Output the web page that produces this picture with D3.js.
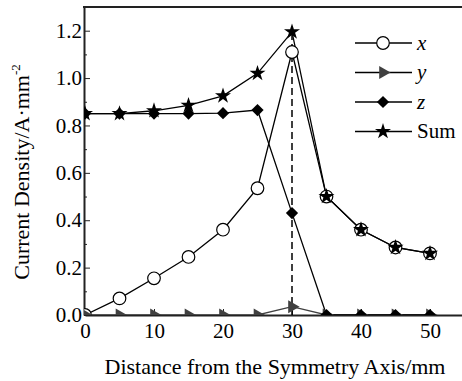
<!DOCTYPE html>
<meta charset="utf-8">
<style>
  body { margin: 0; background: #fff; }
  text { font-family: "Liberation Serif", "Times New Roman", serif; fill: #000; }
  .tick text { font-size: 21px; }
  .axis path, .axis line { stroke: #222; }
</style>
<svg width="462" height="381"></svg>
<script src="https://d3js.org/d3.v7.min.js"></script>
<script>

var distance = [0, 5, 10, 15, 20, 25, 30, 35, 40, 45, 50];
var xValues = [0, 0.07, 0.155, 0.245, 0.36, 0.535, 1.11, 0.50, 0.36, 0.285, 0.26];
var yValues = [0, 0, 0, 0, 0, 0, 0.035, 0, 0, 0, 0];
var zValues = [0.85, 0.85, 0.85, 0.85, 0.852, 0.865, 0.43, 0, 0, 0, 0];
var sumValues = [0.85, 0.85, 0.862, 0.885, 0.925, 1.02, 1.195, 0.50, 0.36, 0.285, 0.26];
var seriesNames = ["x", "y", "z", "Sum"];
var xTicks = [0, 10, 20, 30, 40, 50];
var yTicks = [0, 0.2, 0.4, 0.6, 0.8, 1.0, 1.2];

var svg = d3.select("svg"),
  plotLeft = 84, plotTop = 7, plotBottom = 315;

var x = d3.scaleLinear().domain([0, 55]).range([85, 464.5]);
var y = d3.scaleLinear().domain([0, 1.3]).range([plotBottom, plotTop]);

svg.append("clipPath").attr("id", "plot")
  .append("rect").attr("x", plotLeft).attr("y", plotTop).attr("width", 462 - plotLeft).attr("height", plotBottom - plotTop);

// axes, ticks inward
var xAxis = svg.append("g").attr("class", "axis")
  .attr("transform", "translate(0," + plotBottom + ")")
  .call(d3.axisBottom(x).tickValues(xTicks).tickSizeInner(-6).tickSizeOuter(0).tickFormat(d3.format("d")));
xAxis.selectAll(".tick text").attr("y", 8).attr("dy", "0.71em");

var xMinor = svg.append("g").attr("class", "axis")
  .attr("transform", "translate(0," + plotBottom + ")")
  .call(d3.axisBottom(x).tickValues([5, 15, 25, 35, 45, 55]).tickSize(-3).tickFormat(""));
xMinor.select(".domain").remove();

var yAxis = svg.append("g").attr("class", "axis")
  .attr("transform", "translate(" + plotLeft + ",0)")
  .call(d3.axisLeft(y).tickValues(yTicks).tickSizeInner(-6).tickSizeOuter(0).tickFormat(d3.format(".1f")));
yAxis.selectAll(".tick text").attr("x", -2);

var yMinor = svg.append("g").attr("class", "axis")
  .attr("transform", "translate(" + plotLeft + ",0)")
  .call(d3.axisLeft(y).tickValues([0.1, 0.3, 0.5, 0.7, 0.9, 1.1]).tickSize(-3).tickFormat(""));
yMinor.select(".domain").remove();

svg.selectAll(".axis .domain").attr("stroke-width", 2);

// top frame
svg.append("line").attr("x1", plotLeft - 1).attr("x2", 462).attr("y1", plotTop).attr("y2", plotTop)
  .attr("stroke", "#222").attr("stroke-width", 2);

// titles
svg.append("text").attr("x", 275).attr("y", 374).attr("text-anchor", "middle")
  .style("font-size", "22px").text("Distance from the Symmetry Axis/mm");

var yt = svg.append("text").attr("transform", "translate(29,172) rotate(-90)")
  .attr("text-anchor", "middle").style("font-size", "22px");
yt.append("tspan").text("Current Density/A\u00b7mm");
yt.append("tspan").attr("dy", -9).style("font-size", "13px").text("-2");

// markers
var star = d3.symbol().type(d3.symbolStar).size(80);
var diamond = d3.symbol().type(d3.symbolSquare).size(75);
var tri = d3.symbol().type(d3.symbolTriangle).size(75);

function drawMarker(sel, name) {
  if (name == "x") {
    sel.append("circle").attr("r", 6.3).attr("fill", "#fff").attr("stroke", "#000").attr("stroke-width", 1.2);
  } else if (name == "y") {
    sel.append("path").attr("d", tri()).attr("transform", "rotate(90)").attr("fill", "#404040");
  } else if (name == "z") {
    sel.append("path").attr("d", diamond()).attr("transform", "rotate(45)").attr("fill", "#000");
  } else {
    sel.append("path").attr("d", star()).attr("fill", "#000");
  }
}

var plot = svg.append("g").attr("clip-path", "url(#plot)");

// dashed line at peak
plot.append("line").attr("x1", x(30)).attr("x2", x(30)).attr("y1", y(0)).attr("y2", y(sumValues[6]))
  .attr("stroke", "#000").attr("stroke-width", 1.5).attr("stroke-dasharray", "7,4");

var seriesData = [xValues, yValues, zValues, sumValues];
var colors = ["#000", "#404040", "#000", "#000"];
var line = d3.line().x(function(d, i) { return x(distance[i]); }).y(function(d) { return y(d); });

seriesData.forEach(function(vals, k) {
  plot.append("path").datum(vals).attr("d", line)
    .attr("fill", "none").attr("stroke", colors[k]).attr("stroke-width", 1.3);
});

[0, 1, 2, 3].forEach(function(k) {
  plot.selectAll(".m" + k).data(seriesData[k]).enter().append("g")
    .attr("transform", function(d, i) { return "translate(" + x(distance[i]) + "," + y(d) + ")"; })
    .each(function() { drawMarker(d3.select(this), seriesNames[k]); });
});

// legend
var legend = svg.selectAll(".legend").data(seriesNames).enter().append("g")
  .attr("transform", function(d, i) { return "translate(355," + (43 + i * 29.5) + ")"; });
legend.append("line").attr("x1", 0).attr("x2", 57).attr("stroke", "#000").attr("stroke-width", 1.3);
legend.append("g").attr("transform", "translate(28,0)").each(function(d) { drawMarker(d3.select(this), d); });
legend.append("text").attr("x", 62).attr("dy", "0.33em").style("font-size", "21px")
  .style("font-style", function(d) { return d == "Sum" ? "normal" : "italic"; })
  .text(function(d) { return d; });

</script>
